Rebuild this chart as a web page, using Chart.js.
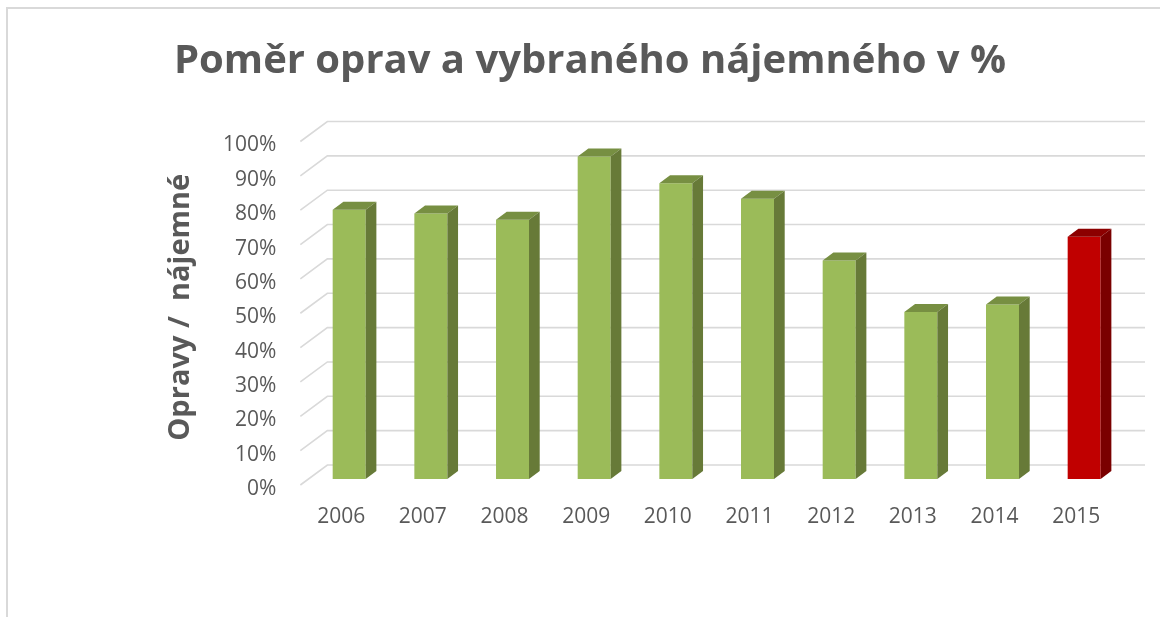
<!DOCTYPE html>
<html>
<head>
<meta charset="utf-8">
<script src="https://cdn.jsdelivr.net/npm/chart.js@4.4.1/dist/chart.umd.min.js"></script>
<style>
  html, body { margin: 0; padding: 0; background: #ffffff; }
  #frame { position: absolute; left: 6px; top: 7px; width: 1200px; height: 700px;
           border-top: 2px solid #d9d9d9; border-left: 2px solid #d9d9d9; }
  #wrap { position: absolute; left: 0; top: 0; width: 1160px; height: 617px; }
</style>
</head>
<body>
<div id="frame"></div>
<div id="wrap"><canvas id="c" width="1160" height="617"></canvas></div>
<script>
// ---- data ----
const years = ['2006', '2007', '2008', '2009', '2010', '2011', '2012', '2013', '2014', '2015'];
const ratios = [78.4, 77.3, 75.5, 93.9, 86.1, 81.6, 63.6, 48.6, 50.8, 70.5];
const yTickValues = [0, 10, 20, 30, 40, 50, 60, 70, 80, 90, 100];
const chartTitle = 'Poměr oprav a vybraného nájemného v %';
const yAxisTitle = 'Opravy /  nájemné';

// ---- styles ----
const frontColors = ['#9bbb59', '#9bbb59', '#9bbb59', '#9bbb59', '#9bbb59', '#9bbb59', '#9bbb59', '#9bbb59', '#9bbb59', '#c00000'];
const sideColors  = ['#677a38', '#677a38', '#677a38', '#677a38', '#677a38', '#677a38', '#677a38', '#677a38', '#677a38', '#7a0000'];
const topColors   = ['#778f42', '#778f42', '#778f42', '#778f42', '#778f42', '#778f42', '#778f42', '#778f42', '#778f42', '#8c0000'];
const TEXT = '#595959';
const GRID = '#d9d9d9';
const DX = 10.7, DY = -8;          // bar depth
const WALL_DX = 27, WALL_DY = -20; // wall depth
const FRONT_SHIFT_X = -8, FRONT_SHIFT_Y = 6;

const threeD = {
  id: 'threeD',
  beforeDatasetsDraw(chart) {
    const { ctx, chartArea, scales: { y } } = chart;
    const fx = chartArea.left + FRONT_SHIFT_X;
    const bx = fx + WALL_DX;
    const rx = chartArea.right + 20;
    ctx.save();
    ctx.strokeStyle = GRID;
    ctx.lineWidth = 1.6;
    yTickValues.forEach(v => {
      const p = y.getPixelForValue(v) + FRONT_SHIFT_Y;
      ctx.beginPath();
      ctx.moveTo(fx, p);
      ctx.lineTo(bx, p + WALL_DY);
      ctx.lineTo(rx, p + WALL_DY);
      ctx.stroke();
    });
    ctx.restore();
  },
  afterDatasetsDraw(chart) {
    const { ctx } = chart;
    const meta = chart.getDatasetMeta(0);
    ctx.save();
    meta.data.forEach((bar, i) => {
      const { x, y, base, width } = bar.getProps(['x', 'y', 'base', 'width'], true);
      const x0 = x - width / 2, x1 = x + width / 2;
      // top face
      ctx.fillStyle = topColors[i];
      ctx.beginPath();
      ctx.moveTo(x0, y);
      ctx.lineTo(x1, y);
      ctx.lineTo(x1 + DX, y + DY);
      ctx.lineTo(x0 + DX, y + DY);
      ctx.closePath();
      ctx.fill();
      // side face
      ctx.fillStyle = sideColors[i];
      ctx.beginPath();
      ctx.moveTo(x1, y);
      ctx.lineTo(x1 + DX, y + DY);
      ctx.lineTo(x1 + DX, base + DY);
      ctx.lineTo(x1, base);
      ctx.closePath();
      ctx.fill();
    });
    ctx.restore();
  }
};

new Chart(document.getElementById('c'), {
  type: 'bar',
  data: {
    labels: years,
    datasets: [{
      data: ratios,
      backgroundColor: frontColors,
      borderWidth: 0,
      barPercentage: 0.404,
      categoryPercentage: 1
    }]
  },
  options: {
    responsive: false,
    animation: false,
    devicePixelRatio: 1,
    layout: { padding: { left: 55, right: 35, top: 0, bottom: 88 } },
    plugins: {
      legend: { display: false },
      tooltip: { enabled: false },
      title: {
        display: true,
        text: chartTitle,
        color: TEXT,
        font: { family: 'Open Sans', size: 40, weight: 'bold' },
        padding: { top: 38, bottom: 49.5 }
      }
    },
    scales: {
      x: {
        grid: { display: false, drawTicks: false },
        border: { display: false },
        ticks: { padding: 25, labelOffset: FRONT_SHIFT_X, color: TEXT, font: { family: 'Open Sans', size: 21 } },
        afterFit: s => { s.height = 50; }
      },
      y: {
        min: 0,
        max: 100,
        afterBuildTicks: s => { s.ticks = yTickValues.map(v => ({ value: v })); },
        grid: { display: false, drawTicks: false },
        border: { display: false },
        ticks: { padding: 32, labelOffset: 10, color: TEXT, font: { family: 'Open Sans', size: 21 },
                 callback: v => v + '%' },
        title: {
          display: true,
          text: yAxisTitle,
          color: TEXT,
          font: { family: 'Open Sans', size: 29, weight: 'bold' },
          padding: { top: 108, bottom: 0 }
        },
        afterFit: s => { s.width = 253.35; }
      }
    }
  },
  plugins: [threeD]
});
</script>
</body>
</html>
